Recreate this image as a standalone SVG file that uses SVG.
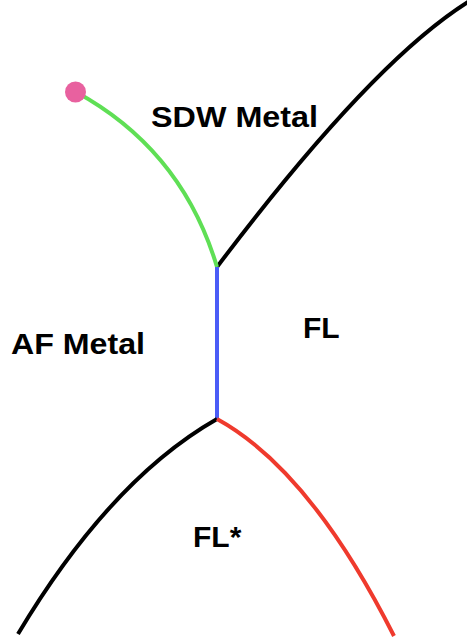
<svg xmlns="http://www.w3.org/2000/svg" width="467" height="638" viewBox="0 0 467 638">
<style>
.ln{fill:none;stroke-width:4;stroke-linecap:butt}
.lbl{font-family:"Liberation Sans",Arial,sans-serif;font-weight:bold;font-size:30px;fill:#000}
</style>
<rect width="467" height="638" fill="#fff"/>
<g id="connectors">
<path class="ln" stroke="#000" d="M217,267 Q371,63 468,2"/>
<path class="ln" stroke="#5fdf55" d="M76,92 Q182,150 217,267"/>
<path class="ln" stroke="#4a5cf7" d="M217,267 L217,419"/>
<path class="ln" stroke="#000" d="M217,419 Q110,480 18,634"/>
<path class="ln" stroke="#ef3a2d" d="M217,419 Q310,470 394,636"/>
</g>
<g id="critical-point"><circle cx="75.5" cy="92" r="10.5" fill="#e8619f"/></g>
<g id="sdw-metal"><text class="lbl" x="151" y="127" textLength="167" lengthAdjust="spacingAndGlyphs">SDW Metal</text></g>
<g id="af-metal"><text class="lbl" x="11" y="354" textLength="134" lengthAdjust="spacingAndGlyphs">AF Metal</text></g>
<g id="fl"><text class="lbl" x="303" y="338">FL</text></g>
<g id="fl-star"><text class="lbl" x="193" y="547">FL*</text></g>
</svg>
